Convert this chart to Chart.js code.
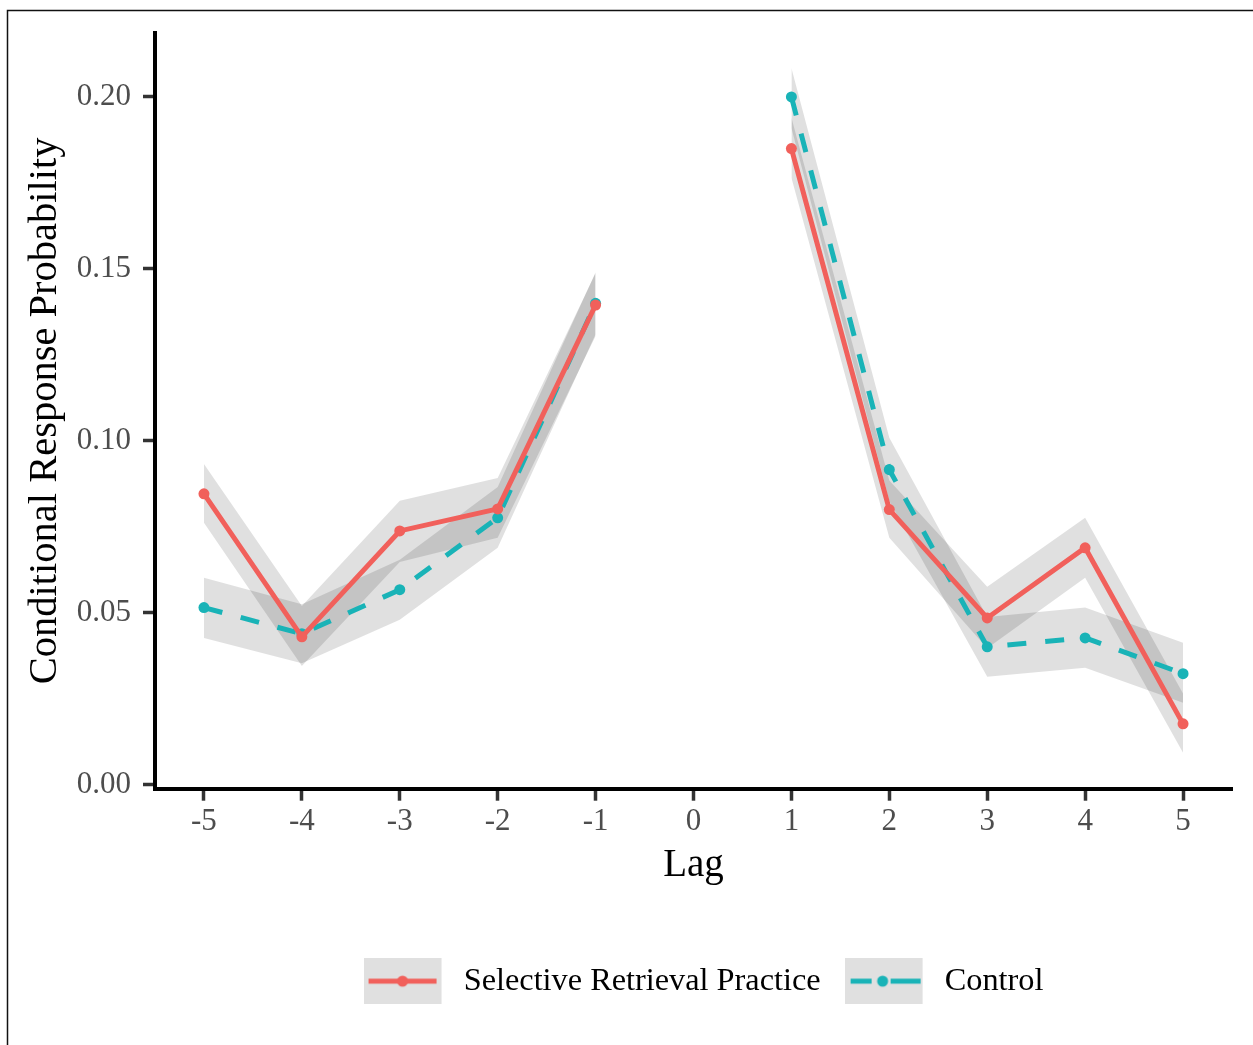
<!DOCTYPE html>
<html>
<head>
<meta charset="utf-8">
<script src="https://cdn.jsdelivr.net/npm/chart.js@4.4.1/dist/chart.umd.min.js"></script>
<style>
  html, body { margin: 0; padding: 0; background: #fff; overflow: hidden; }
  #wrap { width: 1253px; height: 1045px; position: relative; }
</style>
</head>
<body>
<div id="wrap"><canvas id="crp"></canvas></div>
<script>
// data
const lags = [-5, -4, -3, -2, -1, 0, 1, 2, 3, 4, 5];
const yTicks = [0, 0.05, 0.10, 0.15, 0.20];

const srp     = [0.0846, 0.0430, 0.0738, 0.0802, 0.1395, null, 0.1850, 0.0800, 0.0485, 0.0689, 0.0177];
const srpLow  = [0.0762, 0.0345, 0.0648, 0.0718, 0.1305, null, 0.1765, 0.0718, 0.0397, 0.0602, 0.0093];
const srpHigh = [0.0933, 0.0520, 0.0826, 0.0892, 0.1488, null, 0.1940, 0.0885, 0.0576, 0.0776, 0.0265];

const ctrl     = [0.0515, 0.0439, 0.0567, 0.0776, 0.1400, null, 0.2000, 0.0916, 0.0401, 0.0427, 0.0323];
const ctrlLow  = [0.0427, 0.0353, 0.0480, 0.0689, 0.1310, null, 0.1910, 0.0825, 0.0314, 0.0340, 0.0238];
const ctrlHigh = [0.0602, 0.0525, 0.0654, 0.0866, 0.1490, null, 0.2084, 0.1009, 0.0488, 0.0515, 0.0413];

const seriesNames = ['Selective Retrieval Practice', 'Control'];

const RED = '#F1605B';
const TEAL = '#19B3B7';
const BAND = 'rgba(0,0,0,0.12)';
const SERIF = "'Liberation Serif', 'Times New Roman', serif";

const toPts = arr => lags.map((l, i) => ({x: l, y: arr[i]}));

// legend key glyphs (grey key box + line + dot)
function makeKey(color, dashed) {
  const c = document.createElement('canvas');
  c.width = 84; c.height = 46;
  const g = c.getContext('2d');
  g.fillStyle = '#E0E0E0';
  g.fillRect(0, 0, 78, 46);
  g.strokeStyle = color;
  g.lineWidth = 5;
  g.beginPath();
  if (dashed) {
    g.moveTo(6, 23); g.lineTo(27, 23);
    g.moveTo(46, 23); g.lineTo(76, 23);
  } else {
    g.moveTo(5, 23); g.lineTo(73, 23);
  }
  g.stroke();
  g.fillStyle = color;
  g.beginPath();
  g.arc(dashed ? 38 : 39, 23, 5.5, 0, Math.PI * 2);
  g.fill();
  return c;
}
const keys = [makeKey(RED, false), makeKey(TEAL, true)];

const bandSet = (arr, fill) => ({
  data: toPts(arr),
  borderWidth: 0,
  borderColor: 'rgba(0,0,0,0)',
  backgroundColor: BAND,
  pointRadius: 0,
  fill: fill,
  order: 10,
  spanGaps: false
});

const data = {
  datasets: [
    bandSet(srpLow, false),
    bandSet(srpHigh, '-1'),
    bandSet(ctrlLow, false),
    bandSet(ctrlHigh, '-1'),
    {
      label: seriesNames[0],
      data: toPts(srp),
      borderColor: RED,
      backgroundColor: RED,
      borderWidth: 5,
      pointRadius: 5.5,
      pointBorderWidth: 0,
      fill: false,
      order: 0,
      spanGaps: false
    },
    {
      label: seriesNames[1],
      data: toPts(ctrl),
      borderColor: TEAL,
      backgroundColor: TEAL,
      borderWidth: 5,
      borderDash: [19, 19],
      borderCapStyle: 'butt',
      pointRadius: 5.5,
      pointBorderWidth: 0,
      fill: false,
      order: 1,
      spanGaps: false
    }
  ]
};

// thin frame on the left / top of the figure
const framePlugin = {
  id: 'frame',
  beforeDraw(chart) {
    const ctx = chart.ctx;
    ctx.save();
    ctx.fillStyle = '#fff';
    ctx.fillRect(0, 0, chart.width, chart.height);
    ctx.strokeStyle = '#111';
    ctx.lineWidth = 1.5;
    ctx.beginPath();
    ctx.moveTo(7.5, chart.height);
    ctx.lineTo(7.5, 10.5);
    ctx.lineTo(chart.width, 10.5);
    ctx.stroke();
    ctx.restore();
  }
};

// put the legend row where it sits in the figure
const legendPlace = {
  id: 'legendPlace',
  afterLayout(chart) {
    const lg = chart.legend;
    const dx = 703.5 - (lg.left + lg.right) / 2;
    lg.left += dx; lg.right += dx;
    const h = lg.bottom - lg.top;
    lg.top = 981 - 16 - 24;
    lg.bottom = lg.top + h;
  }
};

const config = {
  type: 'line',
  data,
  options: {
    responsive: true,
    maintainAspectRatio: false,
    devicePixelRatio: 1,
    animation: false,
    layout: { padding: { left: 0, top: 33, right: 21, bottom: 0 } },
    elements: { line: { tension: 0 } },
    plugins: {
      tooltip: { enabled: false },
      legend: {
        position: 'bottom',
        labels: {
          usePointStyle: true,
          pointStyleWidth: 84,
          padding: 24,
          color: '#000',
          font: { family: SERIF, size: 32.3 },
          generateLabels: () => seriesNames.map((name, i) => ({
            text: name,
            pointStyle: keys[i],
            fillStyle: 'rgba(0,0,0,0)',
            strokeStyle: 'rgba(0,0,0,0)',
            lineWidth: 0,
            hidden: false,
            datasetIndex: 4 + i
          }))
        }
      }
    },
    scales: {
      x: {
        type: 'linear',
        min: -5.5,
        max: 5.5,
        afterBuildTicks: s => { s.ticks = lags.map(v => ({value: v})); },
        afterFit: s => { s.height = 190; },
        ticks: {
          callback: v => String(v),
          color: '#4D4D4D',
          font: { family: SERIF, size: 31 },
          padding: 3,
          autoSkip: false,
          maxRotation: 0
        },
        grid: {
          drawOnChartArea: false,
          tickLength: 12,
          tickWidth: 3.5,
          tickColor: '#333'
        },
        border: { display: true, color: '#000', width: 4 },
        title: {
          display: true,
          text: 'Lag',
          color: '#000',
          font: { family: SERIF, size: 39 },
          padding: { top: 0, bottom: 90 }
        }
      },
      y: {
        type: 'linear',
        min: -0.00116,
        max: 0.2186,
        afterBuildTicks: s => { s.ticks = yTicks.map(v => ({value: v})); },
        afterFit: s => { s.width = 155; },
        ticks: {
          callback: v => v.toFixed(2),
          color: '#4D4D4D',
          font: { family: SERIF, size: 31 },
          padding: 12
        },
        grid: {
          drawOnChartArea: false,
          tickLength: 12,
          tickWidth: 3.5,
          tickColor: '#333'
        },
        border: { display: true, color: '#000', width: 4 },
        title: {
          display: true,
          text: 'Conditional Response Probability',
          color: '#000',
          font: { family: SERIF, size: 40.5 },
          padding: { top: 21, bottom: 0 }
        }
      }
    }
  },
  plugins: [framePlugin, legendPlace]
};

const crpChart = new Chart(document.getElementById('crp'), config);
</script>
</body>
</html>
